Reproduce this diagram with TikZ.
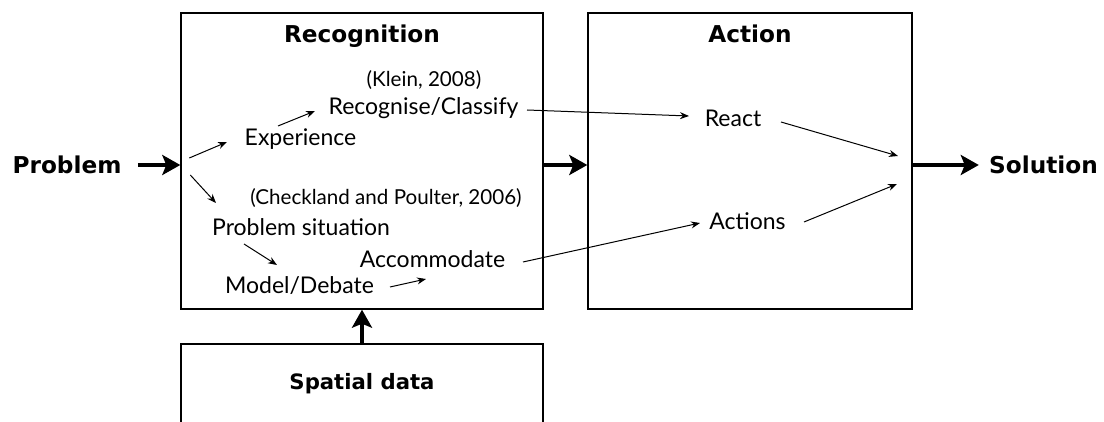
\documentclass[tikz,border=0pt]{standalone}
\usepackage{fontspec}
\setmainfont{Lato}
\newfontfamily\headfont{DejaVu Sans}
\usetikzlibrary{arrows.meta,positioning}

\begin{document}
\begin{tikzpicture}[x=0.5pt,y=-0.5pt,
      box_st/.style={
         draw=black,
         line width=0.7pt,
         inner sep=0pt},
      head_txt/.style={
         inner sep=0pt,
         font=\headfont\bfseries\fontsize{11.6}{13}\selectfont},
      body_txt/.style={
         inner sep=0pt,
         font=\fontsize{11.5}{13}\selectfont},
      cite_txt/.style={
         inner sep=0pt,
         font=\fontsize{10.3}{12}\selectfont},
      arrow_thick/.style={
        -{Stealth[length=9pt,width=10pt,inset=2pt]},
        line width=2pt,
        },
      arrow_thin/.style={
        -{Stealth[length=4.5pt,width=3.5pt]},
        line width=0.5pt,
        }
]
      \useasboundingbox (0,0) rectangle (1104,422);

      %boxes
      \node[box_st,minimum width=181pt,minimum height=148pt] (rec) at (362,161) {};
      \node[box_st,minimum width=162pt,minimum height=148pt] (act) at (750,161) {};
      \node[box_st,minimum width=181pt,minimum height=60pt] (spat) at (362,404) {};

      \node[head_txt,below=6pt of rec.north] (rec_title) {Recognition};
      \node[head_txt,below=6pt of act.north] (act_title) {Action};
      \node[head_txt,font=\headfont\bfseries\fontsize{10.6}{12}\selectfont,
            below=15pt of spat.north] (spat_title) {Spatial data};

      \node[head_txt] (prob) at (67,165) {Problem};
      \node[head_txt] (sol) at (1043.5,165) {Solution};

      %recognition
      \node[cite_txt] (klein) at (424,80) {(Klein, 2008)};
      \node[body_txt] (recog) at (423.5,108) {Recognise/Classify};
      \node[body_txt] (exper) at (300.5,139) {Experience};
      \node[cite_txt] (check) at (386,198) {(Checkland and Poulter, 2006)};
      \node[body_txt] (probsit) at (301,227) {Problem situation};
      \node[body_txt] (accom) at (432.5,259) {Accommodate};
      \node[body_txt] (model) at (299.5,286) {Model/Debate};

      %action
      \node[body_txt] (react) at (733,118) {React};
      \node[body_txt] (actions) at (747.5,221) {Actions};

      \coordinate (fork) at (rec.west |- prob);
      \coordinate (merge) at (898,170);

      \draw [arrow_thick,shorten <=8pt] (prob.east) -- (prob.east -| rec.west);
      \draw [arrow_thick] (rec.east |- prob) -- (act.west |- prob);
      \draw [arrow_thick,shorten >=5pt] (act.east |- sol) -- (sol.west);
      \draw [arrow_thick] (spat.north) -- (rec.south);

    \foreach \i/\si/\j/\sj in {% start node/shift/end node/shift
      fork/{(9,-7)}/exper/{(-73.5,3)},
      fork/{(10,10)}/probsit/{(-85,-24)},
      exper/{(-22.5,-13)}/recog/{(-108.5,3)},
      probsit/{(-57,17)}/model/{(-22.5,-21)},
      model/{(90.5,1)}/accom/{(-6.5,20)},
      recog/{(103.5,2)}/react/{(-44,-2)},
      accom/{(90.5,3)}/actions/{(-47.5,2)},
      react/{(48,4)}/merge/{(0,-14)},
      actions/{(56.5,1)}/merge/{(-1,14)}}
    \draw [arrow_thin] ([shift={\si}]\i.center) -- ([shift={\sj}]\j.center);

\end{tikzpicture}
\end{document}
